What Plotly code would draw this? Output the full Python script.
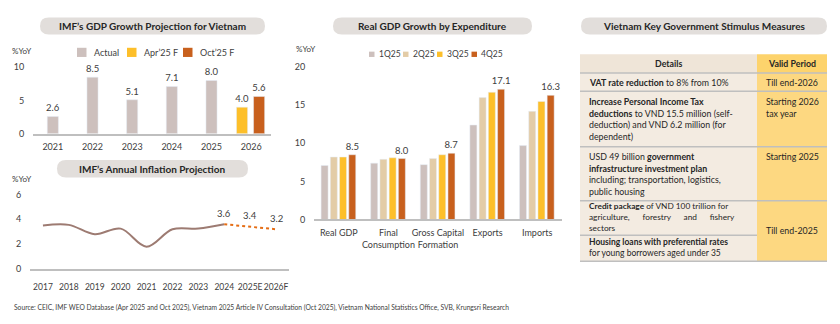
import plotly.graph_objects as go

W, H = 840, 324
def px(x): return x / W
def py(y): return 1 - y / H

# ---------------- data ----------------
gdp_years = ["2021", "2022", "2023", "2024", "2025"]
gdp_actual = [2.6, 8.5, 5.1, 7.1, 8.0]
gdp_fc_year = ["2026"]
gdp_apr25 = [4.0]
gdp_oct25 = [5.6]
gdp_categories = gdp_years + gdp_fc_year
gdp_legend = ["Actual", "Apr\u201925 F", "Oct\u201925 F"]

infl_years = ["2017", "2018", "2019", "2020", "2021", "2022", "2023", "2024"]
infl_actual = [3.5, 3.55, 2.8, 3.25, 1.8, 3.2, 3.25, 3.6]
infl_fc_years = ["2024", "2025E", "2026F"]
infl_fc = [3.6, 3.4, 3.2]
infl_categories = infl_years + ["2025E", "2026F"]

exp_categories = ["Real GDP", "Final Consumption", "Gross Capital Formation", "Exports", "Imports"]
exp_ticklabels = ["Real GDP", "Final<br>Consumption", "Gross Capital<br>Formation", "Exports", "Imports"]
exp_quarters = ["1Q25", "2Q25", "3Q25", "4Q25"]
exp_1q25 = [7.1, 7.4, 7.2, 12.4, 9.7]
exp_2q25 = [8.2, 7.9, 8.0, 16.0, 14.2]
exp_3q25 = [8.2, 8.1, 8.5, 16.7, 15.5]
exp_4q25 = [8.5, 8.0, 8.7, 17.1, 16.3]

# ---------------- styles ----------------
FONT = "Lato, 'Open Sans', sans-serif"
TXT = "#404040"
C_ACT = "#cdc0bd"
C_2Q = "#e3cca7"
C_YEL = "#fdbf2a"
C_ORG = "#c8601d"
C_LINE = "#9d7b72"
C_DOT = "#e56d14"
PILL = "#e2dedb"
AXL = "#bfbfbf"

fig = go.Figure()

# ---- GDP chart ----
fig.add_trace(go.Bar(x=gdp_years, y=gdp_actual, name=gdp_legend[0], marker_color=C_ACT,
                     width=0.28, offset=-0.14, texttemplate="%{y:.1f}",
                     textposition="outside", constraintext="none", cliponaxis=False,
                     textfont=dict(size=9.5, color=TXT), xaxis="x", yaxis="y", showlegend=False))
fig.add_trace(go.Bar(x=gdp_fc_year, y=gdp_apr25, name=gdp_legend[1], marker_color=C_YEL,
                     width=0.28, offset=-0.37, texttemplate="%{y:.1f}",
                     textposition="outside", constraintext="none", cliponaxis=False,
                     textfont=dict(size=9.5, color=TXT), xaxis="x", yaxis="y", showlegend=False))
fig.add_trace(go.Bar(x=gdp_fc_year, y=gdp_oct25, name=gdp_legend[2], marker_color=C_ORG,
                     width=0.28, offset=0.06, texttemplate="%{y:.1f}",
                     textposition="outside", constraintext="none", cliponaxis=False,
                     textfont=dict(size=9.5, color=TXT), xaxis="x", yaxis="y", showlegend=False))

# ---- Inflation chart ----
fig.add_trace(go.Scatter(x=infl_years, y=infl_actual, mode="lines",
                         line=dict(color=C_LINE, width=2, shape="spline", smoothing=1.0),
                         xaxis="x2", yaxis="y2", showlegend=False, cliponaxis=False))
fig.add_trace(go.Scatter(x=infl_fc_years, y=infl_fc, mode="lines",
                         line=dict(color=C_DOT, width=2, dash="dot"),
                         xaxis="x2", yaxis="y2", showlegend=False, cliponaxis=False))

# ---- Expenditure chart ----
exp_series = [exp_1q25, exp_2q25, exp_3q25, exp_4q25]
exp_colors = [C_ACT, C_2Q, C_YEL, C_ORG]
exp_offsets = [-0.357, -0.171, 0.015, 0.201]
for i, (q, vals) in enumerate(zip(exp_quarters, exp_series)):
    last = i == len(exp_quarters) - 1
    fig.add_trace(go.Bar(x=exp_categories, y=vals, name=q, marker_color=exp_colors[i],
                         width=0.141, offset=exp_offsets[i],
                         texttemplate="%{y:.1f}" if last else None,
                         textposition="outside" if last else "none",
                         constraintext="none", cliponaxis=False,
                         textfont=dict(size=9.5, color=TXT),
                         xaxis="x3", yaxis="y3", showlegend=False))

tickfont = dict(family=FONT, size=9, color=TXT)
noline_y = dict(showgrid=False, zeroline=False, showline=False, ticks="outside",
                ticklen=6, tickcolor="rgba(0,0,0,0)", tickfont=tickfont, fixedrange=True)
base_x = dict(type="category", showgrid=False, zeroline=False, showline=True,
              linecolor=AXL, linewidth=1.5, ticks="outside", ticklen=4, tickangle=0,
              tickcolor="rgba(0,0,0,0)", tickfont=tickfont, fixedrange=True)

fig.update_layout(
    width=W, height=H, margin=dict(l=0, r=0, t=0, b=0),
    paper_bgcolor="white", plot_bgcolor="rgba(0,0,0,0)",
    barmode="overlay", showlegend=False,
    font=dict(family=FONT, color=TXT),
    xaxis=dict(base_x, domain=[px(33), px(271)], anchor="y",
               categoryorder="array", categoryarray=gdp_categories, range=[-0.5, 5.5]),
    yaxis=dict(noline_y, domain=[py(132.3), py(63.3)], anchor="x", range=[0, 10],
               tickvals=[0, 5, 10]),
    xaxis2=dict(base_x, domain=[px(30), px(289)], anchor="y2",
                categoryorder="array", categoryarray=infl_categories, range=[-0.5, 9.5],
                ticklen=9, tickfont=dict(family=FONT, size=8.5, color=TXT)),
    yaxis2=dict(noline_y, domain=[py(272.3), py(195)], anchor="x2", range=[0, 6],
                tickvals=[0, 2, 4, 6]),
    xaxis3=dict(base_x, domain=[px(314), px(562)], anchor="y3",
                categoryorder="array", categoryarray=exp_categories, range=[-0.5, 4.5],
                tickmode="array", tickvals=exp_categories, ticktext=exp_ticklabels),
    yaxis3=dict(noline_y, domain=[py(221), py(63.3)], anchor="x3", range=[0, 20],
                tickvals=[0, 5, 10, 15, 20]),
)

shapes = []
annotations = []

# inflation data labels (placed through the x2/y2 scales, x given as category index)
for xc, v in zip(infl_fc_years, infl_fc):
    annotations.append(dict(text=f"{v:.1f}", x=infl_categories.index(xc), y=v,
                            xref="x2", yref="y2",
                            xanchor="center", yanchor="middle", yshift=11, showarrow=False,
                            font=dict(family=FONT, size=9.5, color=TXT)))

def pill(x0, x1, y0, y1, text, size=10):
    r = (y1 - y0) / 2
    p = (f"M {px(x0 + r)},{py(y0)} L {px(x1 - r)},{py(y0)} "
         f"Q {px(x1)},{py(y0)} {px(x1)},{py(y0 + r)} "
         f"Q {px(x1)},{py(y1)} {px(x1 - r)},{py(y1)} "
         f"L {px(x0 + r)},{py(y1)} "
         f"Q {px(x0)},{py(y1)} {px(x0)},{py(y0 + r)} "
         f"Q {px(x0)},{py(y0)} {px(x0 + r)},{py(y0)} Z")
    shapes.append(dict(type="path", xref="paper", yref="paper", path=p,
                       fillcolor=PILL, line=dict(width=0), layer="below"))
    annotations.append(dict(text=f"<b>{text}</b>", x=px((x0 + x1) / 2), y=py((y0 + y1) / 2),
                            xref="paper", yref="paper", xanchor="center", yanchor="middle",
                            showarrow=False, font=dict(family=FONT, size=size, color="#262626")))

def label(text, x, y, size=9, anchor="left", color=TXT, yanchor="middle"):
    annotations.append(dict(text=text, x=px(x), y=py(y), xref="paper", yref="paper",
                            xanchor=anchor, yanchor=yanchor, showarrow=False, align="left",
                            font=dict(family=FONT, size=size, color=color)))

pill(40, 265, 12, 29.5, "IMF\u2019s GDP Growth Projection for Vietnam")
pill(57, 248, 159.5, 177.5, "IMF\u2019s Annual Inflation Projection")
pill(333, 532, 12, 29.5, "Real GDP Growth by Expenditure")
pill(581, 827, 12, 29.5, "Vietnam Key Government Stimulus Measures")

label("%YoY", 10, 46.5, size=8)
label("%YoY", 10, 179.5, size=8)
label("%YoY", 294, 45, size=8)

# legends
def legend(names, colors, sq, txt_x, yc, s, size):
    for n, c, x0, tx in zip(names, colors, sq, txt_x):
        shapes.append(dict(type="rect", xref="paper", yref="paper",
                           x0=px(x0), x1=px(x0 + s), y0=py(yc + s / 2), y1=py(yc - s / 2),
                           fillcolor=c, line=dict(width=0)))
        label(n, tx, yc, size=size)

legend(gdp_legend, [C_ACT, C_YEL, C_ORG], [77, 127, 183], [92, 142, 198], 48, 9.5, 9)
legend(exp_quarters, exp_colors, [369, 403, 437, 471.5], [376.5, 410.5, 445, 479], 50, 5.5, 8.5)

# ---- table ----
TL, TM, TR = 580, 757, 827
rows = [50, 69.3, 88.3, 145.7, 201.7, 264.3]
C_LC = "#f3ebe1"
C_LH = "#efe5d8"
C_RC = "#fdd881"
C_RH = "#fdd36c"
shapes.append(dict(type="rect", xref="paper", yref="paper", x0=px(TL), x1=px(TM),
                   y0=py(rows[1]), y1=py(rows[0]), fillcolor=C_LH, line=dict(width=0), layer="below"))
shapes.append(dict(type="rect", xref="paper", yref="paper", x0=px(TM), x1=px(TR),
                   y0=py(rows[1]), y1=py(rows[0]), fillcolor=C_RH, line=dict(width=0), layer="below"))
shapes.append(dict(type="rect", xref="paper", yref="paper", x0=px(TL), x1=px(TM),
                   y0=py(rows[-1]), y1=py(rows[1]), fillcolor=C_LC, line=dict(width=0), layer="below"))
shapes.append(dict(type="rect", xref="paper", yref="paper", x0=px(TM), x1=px(TR),
                   y0=py(rows[-1]), y1=py(rows[1]), fillcolor=C_RC, line=dict(width=0), layer="below"))
for yy in rows[1:]:
    shapes.append(dict(type="line", xref="paper", yref="paper", x0=px(TL), x1=px(TR),
                       y0=py(yy), y1=py(yy), line=dict(color=AXL, width=1.5)))
shapes.append(dict(type="line", xref="paper", yref="paper", x0=px(TL), x1=px(TM),
                   y0=py(237.3), y1=py(237.3), line=dict(color=AXL, width=1.5)))

TC = "#262626"
TS = 8.8
LX, RX = 586.5, 764
label("<b>Details</b>", (TL + TM) / 2, 59.7, size=TS, anchor="center", color=TC)
label("<b>Valid Period</b>", (TM + TR) / 2, 59.7, size=TS, anchor="center", color=TC)
left_lines = [
    ("<b>VAT rate reduction</b> to 8% from 10%", 79),
    ("<b>Increase Personal Income Tax</b>", 98.7),
    ("<b>deductions</b> to VND 15.5 million (self-", 111),
    ("deduction) and VND 6.2 million (for", 123),
    ("dependent)", 135),
    ("USD 49 billion <b>government</b>", 156),
    ("<b>infrastructure investment plan</b>", 167.7),
    ("including; transportation, logistics,", 180),
    ("public housing", 192),
]
for t, yy in left_lines:
    label(t, LX, yy, size=TS, color=TC)
# tighter multi-line blocks
label("<b>Credit package</b> of VND 100 trillion for<br>"
      "agriculture,&nbsp;&nbsp;&nbsp;&nbsp;&nbsp; forestry&nbsp;&nbsp;&nbsp;&nbsp;&nbsp; and"
      "&nbsp;&nbsp;&nbsp;&nbsp;&nbsp; fishery<br>sectors", LX, 218.5, size=8.3, color=TC)
label("<b>Housing loans with preferential rates</b><br>for young borrowers aged under 35",
      LX, 249.8, size=8.5, color=TC)
right_lines = [
    ("Till end-2026", 79),
    ("Starting 2026", 98.7),
    ("tax year", 111),
    ("Starting 2025", 156),
    ("Till end-2025", 232.7),
]
for t, yy in right_lines:
    label(t, RX, yy, size=TS, color=TC)

label("Source: CEIC, IMF WEO Database (Apr 2025 and Oct 2025), Vietnam 2025 Article IV Consultation "
      "(Oct 2025), Vietnam National Statistics Office, SVB, Krungsri Research", 12, 312.5, size=6.7,
      color="#404040")

fig.update_layout(shapes=shapes, annotations=annotations)
fig.write_html("out.html")
